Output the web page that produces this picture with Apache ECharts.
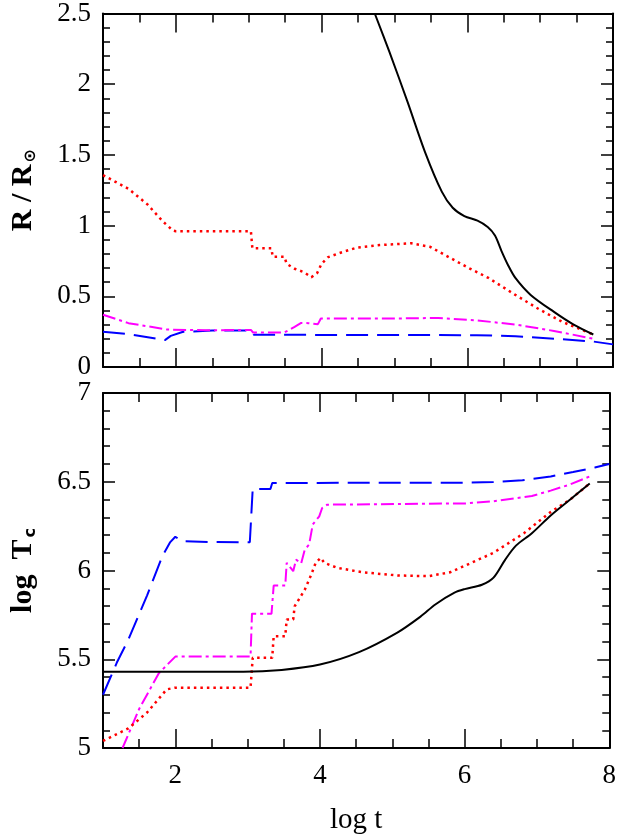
<!DOCTYPE html>
<html>
<head>
<meta charset="utf-8">
<script src="https://cdn.jsdelivr.net/npm/echarts@6/dist/echarts.min.js"></script>
<style>
  html, body { margin: 0; padding: 0; background: #fff; }
  #chart { width: 619px; height: 837px; }
</style>
</head>
<body>
<div id="chart"></div>
<script>
// radius vs log t (top panel)
var rBlack = [[4.73,2.5],[4.93,2.23],[5.18,1.875],[5.42,1.52],[5.65,1.24],[5.80,1.126],[5.96,1.067],
  [6.14,1.035],[6.28,0.99],[6.38,0.93],[6.47,0.82],[6.56,0.72],[6.66,0.63],[6.87,0.51],[7.19,0.39],
  [7.46,0.30],[7.73,0.23]];
var rRed = [[1.0,1.357],[1.35,1.26],[1.61,1.15],[1.82,1.03],[1.96,0.965],[2.0,0.96],[3.03,0.96],
  [3.05,0.84],[3.31,0.84],[3.33,0.78],[3.49,0.78],[3.52,0.73],[3.63,0.695],[3.76,0.67],[3.86,0.635],
  [3.94,0.665],[4.0,0.73],[4.09,0.777],[4.27,0.81],[4.49,0.845],[4.80,0.862],[5.23,0.875],[5.49,0.85],
  [5.70,0.79],[6.02,0.70],[6.29,0.63],[6.66,0.51],[6.98,0.41],[7.30,0.32],[7.73,0.23]];
var rMagenta = [[1.0,0.37],[1.35,0.31],[1.88,0.265],[2.41,0.26],[3.03,0.262],[3.06,0.244],[3.49,0.244],
  [3.63,0.284],[3.72,0.312],[3.82,0.31],[3.95,0.303],[3.99,0.343],[5.0,0.343],[5.6,0.347],[6.13,0.33],
  [6.66,0.30],[7.19,0.255],[7.73,0.20]];
var rBlue = [[1.0,0.25],[1.35,0.232],[1.85,0.19],[1.93,0.22],[2.09,0.248],[2.5,0.258],[3.03,0.258],
  [3.07,0.228],[6.13,0.225],[6.66,0.218],[7.19,0.20],[7.73,0.18],[8.0,0.16]];

// log Tc vs log t (bottom panel)
var tBlack = [[1.0,5.43],[2.94,5.43],[3.47,5.44],[4.0,5.47],[4.54,5.54],[5.07,5.65],[5.39,5.74],
  [5.6,5.81],[5.86,5.875],[6.0,5.895],[6.24,5.92],[6.4,5.96],[6.56,6.06],[6.71,6.14],[6.93,6.21],
  [7.19,6.31],[7.46,6.40],[7.73,6.49]];
var tRed = [[1.0,5.04],[1.35,5.11],[1.61,5.20],[1.88,5.33],[2.0,5.34],[3.04,5.34],[3.07,5.508],
  [3.34,5.508],[3.36,5.63],[3.52,5.63],[3.54,5.724],[3.63,5.724],[3.65,5.798],[3.79,5.892],
  [3.88,5.977],[3.94,6.043],[4.01,6.071],[4.06,6.043],[4.24,6.015],[4.59,5.99],[5.07,5.972],
  [5.5,5.968],[5.8,5.99],[6.02,6.03],[6.4,6.10],[6.82,6.21],[7.19,6.33],[7.46,6.40],[7.73,6.49]];
var tMagenta = [[1.27,5.0],[1.5,5.22],[1.77,5.42],[2.0,5.515],[3.04,5.515],[3.06,5.757],[3.33,5.757],
  [3.36,5.915],[3.52,5.915],[3.54,6.043],[3.63,5.996],[3.67,6.061],[3.74,6.04],[3.79,6.118],
  [3.85,6.146],[3.90,6.259],[3.99,6.305],[4.03,6.352],[4.1,6.371],[6.02,6.378],[6.4,6.39],
  [6.93,6.42],[7.19,6.45],[7.46,6.485],[7.73,6.53]];
var tBlue = [[1.0,5.30],[1.19,5.48],[1.35,5.61],[1.61,5.86],[1.82,6.08],[1.93,6.16],[2.0,6.19],
  [2.09,6.165],[2.5,6.16],[3.03,6.159],[3.07,6.459],[3.315,6.459],[3.34,6.493],[6.0,6.495],
  [6.4,6.498],[6.8,6.508],[7.19,6.53],[7.5,6.555],[7.8,6.58],[8.0,6.60]];

var xLabelTicks = [2, 4, 6, 8];
var fontFam = 'Liberation Serif';

function xMain(grid, pos, labels) {
  var ax = {
    type: 'value', gridIndex: grid, position: pos, min: 1, max: 8, interval: 0.5,
    axisLine: { show: true, lineStyle: { color: '#000', width: 2 } },
    axisTick: { show: true, inside: true, length: 9, lineStyle: { color: '#000', width: 1.5 } },
    axisLabel: {
      show: labels, margin: 14, color: '#000', fontFamily: fontFam, fontSize: 27,
      showMinLabel: true, showMaxLabel: true,
      formatter: function (v) { return (v % 2 === 0) ? String(v) : ''; }
    },
    splitLine: { show: false }
  };
  if (labels) {
    ax.name = 'log t';
    ax.nameLocation = 'middle';
    ax.nameGap = 58;
    ax.nameTextStyle = { color: '#000', fontFamily: fontFam, fontSize: 29 };
  }
  return ax;
}
function xLong(grid, pos) {
  return {
    type: 'value', gridIndex: grid, position: pos, min: 1, max: 8,
    axisLine: { show: false },
    axisTick: { show: true, inside: true, length: 19, customValues: xLabelTicks,
      lineStyle: { color: '#000', width: 1.5 } },
    axisLabel: { show: false },
    splitLine: { show: false }
  };
}
function yAx(grid, pos, min, max, labels, name) {
  var ax = {
    type: 'value', gridIndex: grid, position: pos, min: min, max: max, interval: 0.5,
    axisLine: { show: true, lineStyle: { color: '#000', width: 2 } },
    axisTick: { show: true, inside: true, length: 12, lineStyle: { color: '#000', width: 1.5 } },
    minorTick: { show: true, splitNumber: 5, length: 7, lineStyle: { color: '#000', width: 1.5 } },
    axisLabel: { show: labels, margin: 12, color: '#000', fontFamily: fontFam, fontSize: 27,
      showMinLabel: true, showMaxLabel: true },
    splitLine: { show: false },
    minorSplitLine: { show: false }
  };
  if (name) {
    ax.name = name;
    ax.nameLocation = 'middle';
    ax.nameGap = 64;
    ax.nameTextStyle = {
      color: '#000', fontFamily: fontFam, fontSize: 30, fontWeight: 'bold',
      rich: {
        b: { fontFamily: fontFam, fontSize: 30, fontWeight: 'bold', color: '#000' },
        s: { fontFamily: 'DejaVu Sans', fontSize: 16, color: '#000', verticalAlign: 'bottom', padding: [16, 0, 0, 2] }
      }
    };
  }
  return ax;
}

function line(data, xi, yi, color, type, width, smooth) {
  return {
    type: 'line', data: data, xAxisIndex: xi, yAxisIndex: yi,
    showSymbol: false, symbol: 'none', smooth: smooth || false, clip: true,
    lineStyle: { color: color, width: width, type: type }
  };
}

var chart = echarts.init(document.getElementById('chart'), null, { renderer: 'canvas' });
chart.setOption({
  animation: false,
  backgroundColor: '#fff',
  grid: [
    { left: 93, right: 6, top: 11, height: 356 },
    { left: 93, right: 6, top: 393, height: 355 }
  ],
  xAxis: [
    xMain(0, 'bottom', false), xLong(0, 'bottom'), xMain(0, 'top', false), xLong(0, 'top'),
    xMain(1, 'bottom', true), xLong(1, 'bottom'), xMain(1, 'top', false), xLong(1, 'top')
  ],
  yAxis: [
    yAx(0, 'left', 0, 2.5, true, '{b|R / R}{s|⊙}'),
    yAx(0, 'right', 0, 2.5, false),
    yAx(1, 'left', 5, 7, true, '{b|log  T}{s|c}'),
    yAx(1, 'right', 5, 7, false)
  ],
  series: [
    line(rBlue, 0, 0, '#0000ff', [22, 9], 2),
    line(rMagenta, 0, 0, '#ff00ff', [13, 4, 3, 4], 2),
    line(rRed, 0, 0, '#ff0000', [2.5, 4], 2.5),
    line(rBlack, 0, 0, '#000000', 'solid', 2, 0.3),
    line(tBlue, 4, 2, '#0000ff', [22, 9], 2),
    line(tMagenta, 4, 2, '#ff00ff', [13, 4, 3, 4], 2),
    line(tRed, 4, 2, '#ff0000', [2.5, 4], 2.5),
    line(tBlack, 4, 2, '#000000', 'solid', 2, 0.3)
  ]
});
</script>
</body>
</html>
